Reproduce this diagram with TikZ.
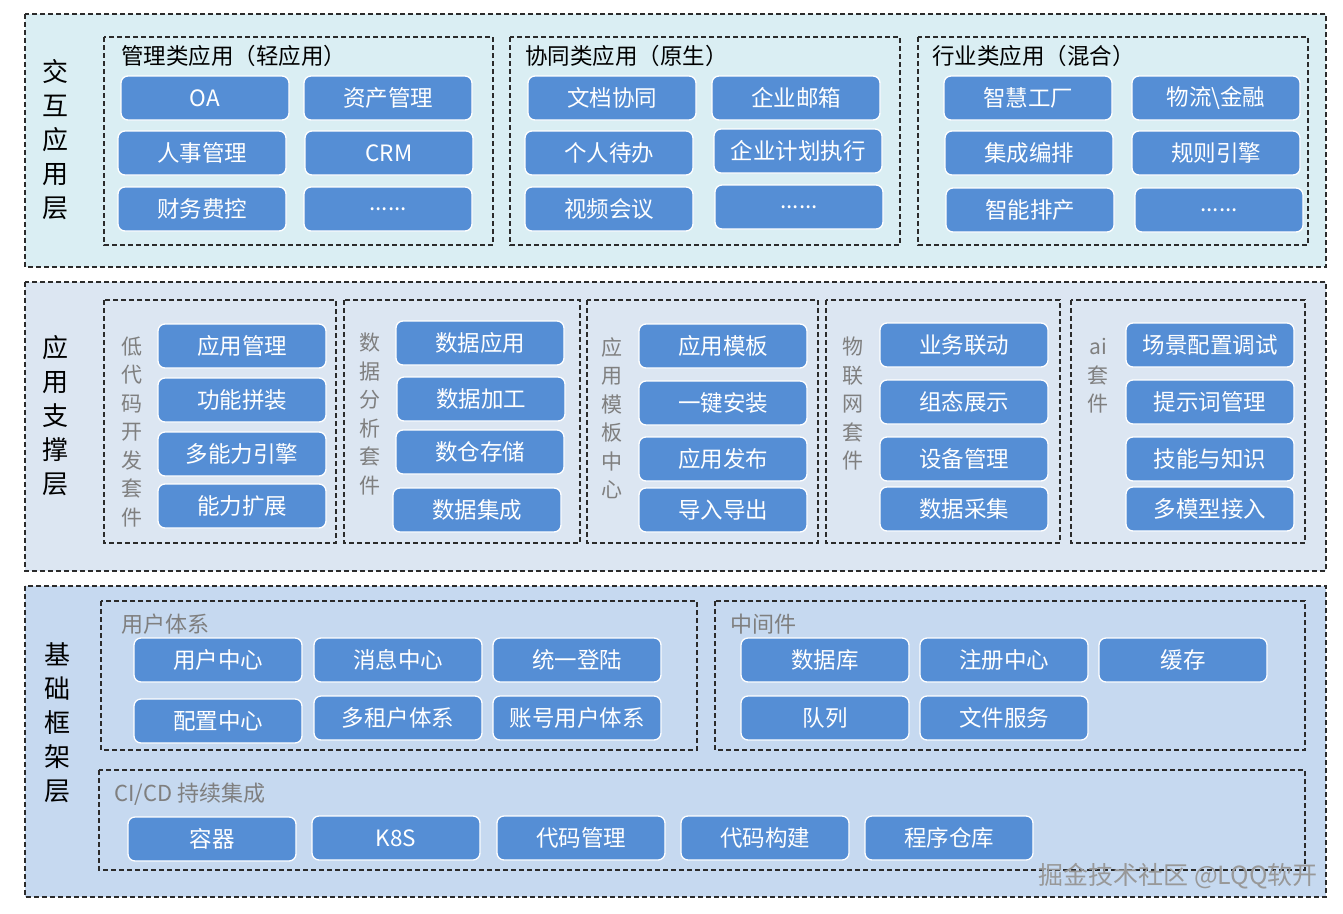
\documentclass[tikz,border=0pt]{standalone}
\usepackage{fontspec}
\setmainfont{Noto Sans CJK SC}
\usetikzlibrary{positioning}
\definecolor{layA}{HTML}{DAEEF3}
\definecolor{layB}{HTML}{DCE6F2}
\definecolor{layC}{HTML}{C6D9F0}
\definecolor{boxblue}{HTML}{558ED5}
\definecolor{dashc}{HTML}{2B2B2B}
\definecolor{graytxt}{HTML}{7F7F7F}
\tikzset{
  layer/.style={draw=dashc, dash pattern=on 5pt off 3pt, line width=1.2pt},
  grp/.style={draw=dashc, dash pattern=on 5pt off 3pt, line width=1.2pt},
  bx/.style={draw=white, line width=1.3pt, fill=boxblue, rounded corners=7pt,
    minimum width=168pt, minimum height=44pt, inner sep=0pt,
    text=white, font=\fontsize{22.5}{25}\selectfont},
  laylabel/.style={align=center, font=\fontsize{26}{34}\selectfont, text=black, inner sep=0pt},
  vlabel/.style={align=center, font=\fontsize{21}{28.5}\selectfont, text=graytxt, inner sep=0pt},
  gtitle/.style={anchor=west, font=\fontsize{22.5}{26}\selectfont, text=black, inner sep=0pt},
  gtitlegray/.style={anchor=west, font=\fontsize{22}{26}\selectfont, text=graytxt, inner sep=0pt},
}
\newcommand\bxat[4]{\node[bx] (#1) at ({#2+84},{#3+22}) {#4};}
\begin{document}
\begin{tikzpicture}[x=1pt,y=-1pt]
\useasboundingbox[fill=white] (0,0) rectangle (1343,913);

% ===== Layer 1 =====
\draw[layer, fill=layA] (25,14) rectangle (1326,267);
\node[laylabel] (L1) at (55,140) {交\\互\\应\\用\\层};
\draw[grp] (104,37) rectangle (493,245);
\node[gtitle] (t11) at (121,56) {管理类应用（轻应用）};
\bxat{oa}{121}{76}{OA}
\bxat{zc}{304}{76}{资产管理}
\bxat{rs}{118}{131}{人事管理}
\bxat{crm}{305}{131}{CRM}
\bxat{cw}{118}{187}{财务费控}
\bxat{d1}{304}{187}{......}

\draw[grp] (510,37) rectangle (900,245);
\node[gtitle] (t12) at (525,56) {协同类应用（原生）};
\bxat{wd}{528}{76}{文档协同}
\bxat{yj}{712}{76}{企业邮箱}
\bxat{gr}{525}{131}{个人待办}
\bxat{jh}{714}{129}{企业计划执行}
\bxat{sp}{525}{187}{视频会议}
\bxat{d2}{715}{185}{......}

\draw[grp] (918,37) rectangle (1308,245);
\node[gtitle] (t13) at (932,56) {行业类应用（混合）};
\bxat{zh}{944}{76}{智慧工厂}
\bxat{wl}{1132}{76}{物流\textbackslash 金融}
\bxat{jc}{945}{131}{集成编排}
\bxat{gz}{1132}{131}{规则引擎}
\bxat{pc}{946}{188}{智能排产}
\bxat{d3}{1135}{188}{......}

% ===== Layer 2 =====
\draw[layer, fill=layB] (25,282) rectangle (1326,571);
\node[laylabel] (L2) at (55,416) {应\\用\\支\\撑\\层};

\draw[grp] (104,300) rectangle (336,543);
\node[vlabel] (v1) at (132,432) {低\\代\\码\\开\\发\\套\\件};
\bxat{a1}{158}{324}{应用管理}
\bxat{a2}{158}{378}{功能拼装}
\bxat{a3}{158}{432}{多能力引擎}
\bxat{a4}{158}{484}{能力扩展}

\draw[grp] (344,300) rectangle (580,543);
\node[vlabel] (v2) at (370,414) {数\\据\\分\\析\\套\\件};
\bxat{b1}{396}{321}{数据应用}
\bxat{b2}{397}{377}{数据加工}
\bxat{b3}{396}{430}{数仓存储}
\bxat{b4}{393}{488}{数据集成}

\draw[grp] (587,300) rectangle (818,543);
\node[vlabel] (v3) at (612,418) {应\\用\\模\\板\\中\\心};
\bxat{c1}{639}{324}{应用模板}
\bxat{c2}{639}{381}{一键安装}
\bxat{c3}{639}{437}{应用发布}
\bxat{c4}{639}{488}{导入导出}

\draw[grp] (826,300) rectangle (1060,543);
\node[vlabel] (v4) at (853,404) {物\\联\\网\\套\\件};
\bxat{e1}{880}{323}{业务联动}
\bxat{e2}{880}{380}{组态展示}
\bxat{e3}{880}{437}{设备管理}
\bxat{e4}{880}{487}{数据采集}

\draw[grp] (1071,300) rectangle (1305,543);
\node[vlabel] (v5) at (1098,376) {ai\\套\\件};
\bxat{f1}{1126}{323}{场景配置调试}
\bxat{f2}{1126}{380}{提示词管理}
\bxat{f3}{1126}{437}{技能与知识}
\bxat{f4}{1126}{487}{多模型接入}

% ===== Layer 3 =====
\draw[layer, fill=layC] (25,586) rectangle (1326,897);
\node[laylabel] (L3) at (57,723) {基\\础\\框\\架\\层};

\draw[grp] (101,601) rectangle (697,750);
\node[gtitlegray] (t31) at (121,624) {用户体系};
\bxat{u1}{134}{638}{用户中心}
\bxat{u2}{314}{638}{消息中心}
\bxat{u3}{493}{638}{统一登陆}
\bxat{u4}{134}{699}{配置中心}
\bxat{u5}{314}{696}{多租户体系}
\bxat{u6}{493}{696}{账号用户体系}

\draw[grp] (715,601) rectangle (1305,750);
\node[gtitlegray] (t32) at (730,624) {中间件};
\bxat{m1}{741}{638}{数据库}
\bxat{m2}{920}{638}{注册中心}
\bxat{m3}{1099}{638}{缓存}
\bxat{m4}{741}{696}{队列}
\bxat{m5}{920}{696}{文件服务}

\draw[grp] (99,770) rectangle (1305,870);
\node[gtitlegray] (t33) at (114,794) {CI/CD 持续集成};
\bxat{k1}{128}{817}{容器}
\bxat{k2}{312}{816}{K8S}
\bxat{k3}{497}{816}{代码管理}
\bxat{k4}{681}{816}{代码构建}
\bxat{k5}{865}{816}{程序仓库}

% watermark
\node[anchor=east, inner sep=0pt, text=graytxt!80!white, font=\fontsize{25}{28}\selectfont] (wm) at (1318,876) {掘金技术社区 @LQQ软开};
\end{tikzpicture}
\end{document}
